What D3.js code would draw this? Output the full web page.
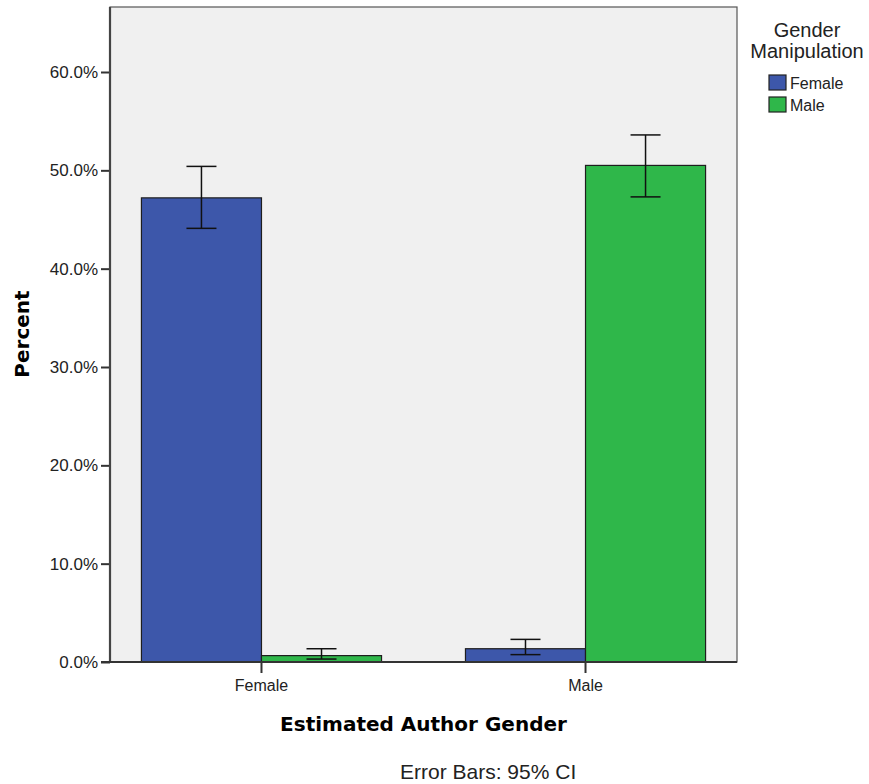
<!DOCTYPE html>
<html>
<head>
<meta charset="utf-8">
<script src="https://cdn.jsdelivr.net/npm/d3@7"></script>
<style>
  html, body { margin: 0; padding: 0; background: #ffffff; }
  svg { display: block; }
  .tick-label { font-family: "Liberation Sans", Arial, sans-serif; fill: #222; }
  .title { font-family: "DejaVu Sans", Verdana, sans-serif; font-weight: bold; fill: #000; }
</style>
</head>
<body>
<svg id="chart" width="869" height="784"></svg>
<script>
// Estimated author gender (x categories) by gender manipulation (series)
const categories = ["Female", "Male"];
const seriesNames = ["Female", "Male"];
const seriesColors = ["#3d57aa", "#2fb74a"];

// Percent of responses, with 95% CI bounds
const femaleManipValues = [47.2, 1.35];
const femaleManipLow    = [44.1, 0.75];
const femaleManipHigh   = [50.4, 2.3];

const maleManipValues = [0.65, 50.5];
const maleManipLow    = [0.3, 47.3];
const maleManipHigh   = [1.35, 53.6];

const yTicks = [0, 10, 20, 30, 40, 50, 60];

const rows = [];
categories.forEach((cat, i) => {
  rows.push({ cat, series: seriesNames[0], value: femaleManipValues[i], lo: femaleManipLow[i], hi: femaleManipHigh[i] });
  rows.push({ cat, series: seriesNames[1], value: maleManipValues[i], lo: maleManipLow[i], hi: maleManipHigh[i] });
});

const svg = d3.select("#chart");

const frame = { left: 110, right: 737, top: 7, bottom: 662 };

const x = d3.scaleBand()
  .domain(categories)
  .range([frame.left, frame.right])
  .paddingInner(0.259)
  .paddingOuter(0.097);

const xInner = d3.scaleBand()
  .domain(seriesNames)
  .range([0, x.bandwidth()]);

const y = d3.scaleLinear()
  .domain([0, 66.61])
  .range([frame.bottom, frame.top]);

const color = d3.scaleOrdinal().domain(seriesNames).range(seriesColors);

// plot area background
svg.append("rect")
  .attr("x", frame.left)
  .attr("y", frame.top)
  .attr("width", frame.right - frame.left)
  .attr("height", frame.bottom - frame.top)
  .attr("fill", "#f0f0f0")
  .attr("stroke", "#555")
  .attr("stroke-width", 1.2);

// bars
svg.append("g")
  .selectAll("rect")
  .data(rows)
  .join("rect")
  .attr("x", d => x(d.cat) + xInner(d.series))
  .attr("y", d => y(d.value))
  .attr("width", xInner.bandwidth())
  .attr("height", d => y(0) - y(d.value))
  .attr("fill", d => color(d.series))
  .attr("stroke", "#1e1e1e")
  .attr("stroke-width", 1.2);

// error bars
const capHalf = 15;
const eb = svg.append("g")
  .attr("stroke", "#111")
  .attr("stroke-width", 1.5)
  .attr("fill", "none");

rows.forEach(d => {
  const cx = x(d.cat) + xInner(d.series) + xInner.bandwidth() / 2;
  eb.append("line").attr("x1", cx).attr("x2", cx).attr("y1", y(d.lo)).attr("y2", y(d.hi));
  eb.append("line").attr("x1", cx - capHalf).attr("x2", cx + capHalf).attr("y1", y(d.hi)).attr("y2", y(d.hi));
  eb.append("line").attr("x1", cx - capHalf).attr("x2", cx + capHalf).attr("y1", y(d.lo)).attr("y2", y(d.lo));
});

// y axis
const yAxis = d3.axisLeft(y)
  .tickValues(yTicks)
  .tickSize(9)
  .tickPadding(3)
  .tickFormat(v => v.toFixed(1) + "%");

const gy = svg.append("g")
  .attr("transform", `translate(${frame.left},0)`)
  .call(yAxis);
gy.select(".domain").remove();
gy.append("line")
  .attr("x1", 0).attr("x2", 0)
  .attr("y1", frame.top).attr("y2", frame.bottom)
  .attr("stroke", "#444").attr("stroke-width", 2.2);
gy.selectAll(".tick line").attr("stroke", "#333").attr("stroke-width", 2);
gy.selectAll(".tick text")
  .attr("class", "tick-label")
  .style("font-size", "17px")
  .attr("fill", "#222");

// x axis
const xAxis = d3.axisBottom(x).tickSize(11).tickPadding(7);
const gx = svg.append("g")
  .attr("transform", `translate(0,${frame.bottom})`)
  .call(xAxis);
gx.select(".domain").remove();
gx.append("line")
  .attr("x1", frame.left - 9).attr("x2", frame.right)
  .attr("y1", 0).attr("y2", 0)
  .attr("stroke", "#333").attr("stroke-width", 2.2);
gx.selectAll(".tick line").attr("stroke", "#333").attr("stroke-width", 2);
gx.selectAll(".tick text")
  .attr("class", "tick-label")
  .style("font-size", "16px")
  .attr("fill", "#222");

// axis titles
svg.append("text")
  .attr("class", "title")
  .attr("x", (frame.left + frame.right) / 2)
  .attr("y", 731)
  .attr("text-anchor", "middle")
  .style("font-size", "20px")
  .text("Estimated Author Gender");

svg.append("text")
  .attr("class", "title")
  .attr("transform", "translate(29,334) rotate(-90)")
  .attr("text-anchor", "middle")
  .style("font-size", "20px")
  .text("Percent");

svg.append("text")
  .attr("class", "tick-label")
  .attr("x", 400)
  .attr("y", 779)
  .style("font-size", "21px")
  .text("Error Bars: 95% CI");

// legend
const legend = svg.append("g");
legend.append("text")
  .attr("class", "tick-label")
  .attr("x", 807)
  .attr("y", 37)
  .attr("text-anchor", "middle")
  .style("font-size", "20px")
  .text("Gender");
legend.append("text")
  .attr("class", "tick-label")
  .attr("x", 807)
  .attr("y", 58)
  .attr("text-anchor", "middle")
  .style("font-size", "20px")
  .text("Manipulation");

const items = legend.selectAll("g.item")
  .data(seriesNames)
  .join("g")
  .attr("class", "item")
  .attr("transform", (d, i) => `translate(769,${75 + i * 22})`);
items.append("rect")
  .attr("width", 17)
  .attr("height", 15)
  .attr("fill", d => color(d))
  .attr("stroke", "#222")
  .attr("stroke-width", 1.2);
items.append("text")
  .attr("class", "tick-label")
  .attr("x", 21)
  .attr("y", 14)
  .style("font-size", "16px")
  .text(d => d);
</script>
</body>
</html>
